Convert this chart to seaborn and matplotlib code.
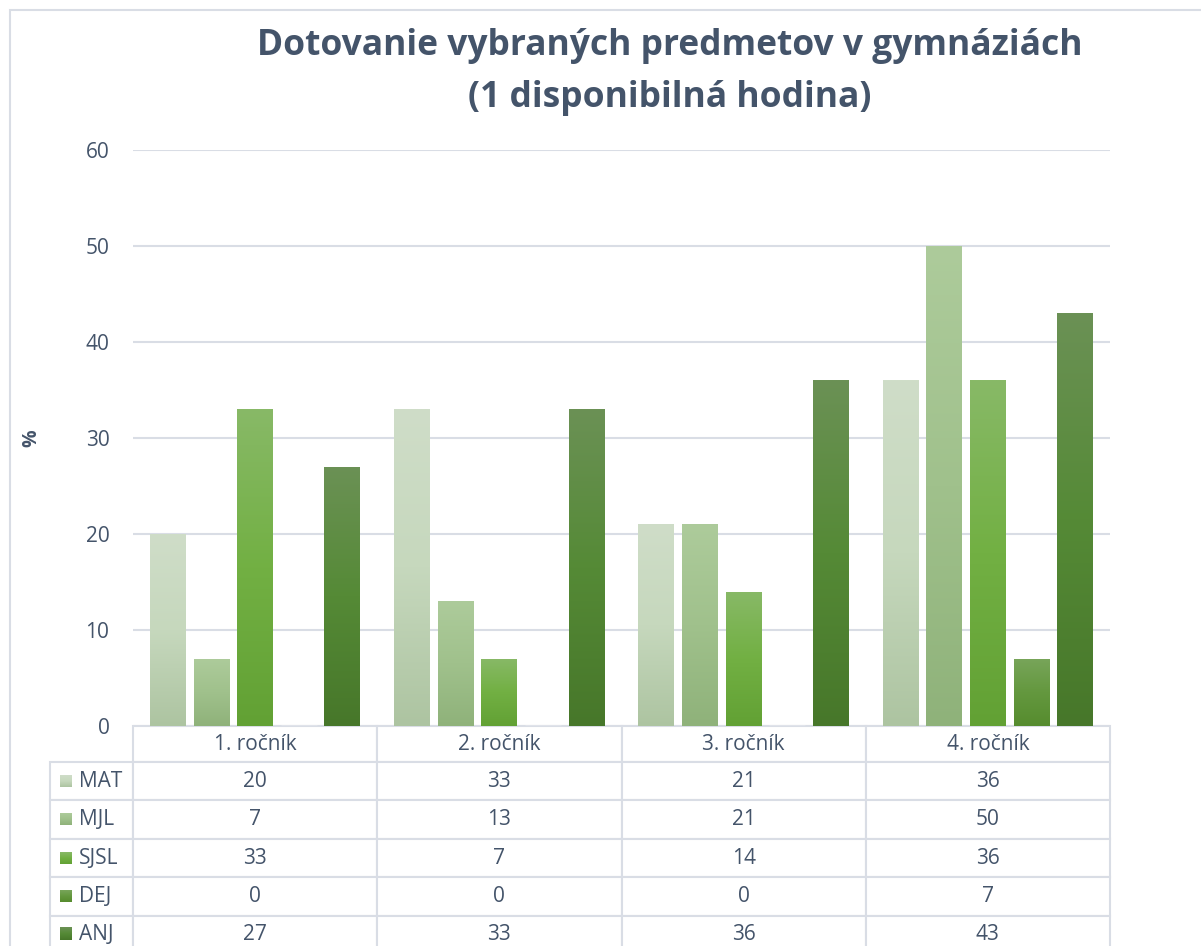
import numpy as np
import pandas as pd
import matplotlib
matplotlib.use("Agg")
import matplotlib.pyplot as plt
import seaborn as sns
from matplotlib.colors import LinearSegmentedColormap
from matplotlib.patches import Rectangle

rocniky = ['1. ročník', '2. ročník', '3. ročník', '4. ročník']
predmety = ['MAT', 'MJL', 'SJSL', 'DEJ', 'ANJ']
mat = [20, 33, 21, 36]
mjl = [7, 13, 21, 50]
sjsl = [33, 7, 14, 36]
dej = [0, 0, 0, 7]
anj = [27, 33, 36, 43]

# gradient colours top -> bottom
grad = {
    'MAT': ['#cfddc8', '#c6d8bd', '#adc4a1'],
    'MJL': ['#adcb9b', '#a0c18c', '#8fb27a'],
    'SJSL': ['#88b967', '#72b043', '#62a134'],
    'DEJ': ['#78a55a', '#64983f', '#568c2e'],
    'ANJ': ['#6b9155', '#558a36', '#47772a'],
}
TXT = '#44546a'
GRID = '#d9dde5'

df = pd.DataFrame({
    'rocnik': rocniky * 5,
    'predmet': [p for p in predmety for _ in rocniky],
    'hodnota': mat + mjl + sjsl + dej + anj,
})

sns.set_style('white')
plt.rcParams['font.family'] = ['Open Sans', 'DejaVu Sans']

fig = plt.figure(figsize=(12.01, 9.46), dpi=100)
W, H = 1201, 946
ax = fig.add_axes([133 / W, 1 - 726 / H, 977 / W, 576 / H])

sns.barplot(data=df, x='rocnik', y='hodnota', hue='predmet', hue_order=predmety,
            palette=[grad[p][1] for p in predmety], width=0.893, gap=0.175,
            legend=False, ax=ax, zorder=3)

ax.set_ylim(0, 60)
ax.set_xlim(-0.5, 3.5)
ax.set_yticks(range(0, 61, 10))
ax.tick_params(axis='y', length=0, pad=17, labelsize=15, labelcolor=TXT)
ax.set_xticks([])
ax.set_xlabel('')
ax.grid(axis='y', color=GRID, lw=1.5, zorder=0)
ax.set_axisbelow(True)
for s in ax.spines.values():
    s.set_visible(False)
ax.set_ylabel('%', fontsize=14, fontweight='bold', color=TXT)
ax.yaxis.set_label_coords(-0.094, 0.5)

# gradient fills on bars
for cont, p in zip(ax.containers, predmety):
    cmap = LinearSegmentedColormap.from_list(p, grad[p][::-1])
    for bar in cont:
        x0, y0 = bar.get_x(), bar.get_y()
        w, h = bar.get_width(), bar.get_height()
        if h <= 0:
            continue
        img = ax.imshow(np.linspace(0, 1, 256).reshape(-1, 1), cmap=cmap,
                        extent=[x0, x0 + w, y0, y0 + h], origin='lower',
                        aspect='auto', zorder=3)
        img.set_clip_path(bar)
        bar.set_alpha(0)

# data table (row-label column hangs left of the bbox)
cell_text = [[str(v) for v in row] for row in [mat, mjl, sjsl, dej, anj]]
lab_w = 83 / 977
tbl = ax.table(cellText=cell_text, rowLabels=predmety, colLabels=rocniky,
               colWidths=[0.25] * 4, cellLoc='center', rowLoc='left',
               bbox=[0, -228 / 576, 1, 228 / 576])
tbl._autoColumns = []
tbl.auto_set_font_size(False)
for (r, c), cell in tbl.get_celld().items():
    cell.set_edgecolor(GRID)
    cell.set_linewidth(1.5)
    cell.get_text().set_color(TXT)
    cell.get_text().set_fontsize(15)
    if c == -1:
        cell.set_width(lab_w)
        cell.PAD = 0.35
    cell.set_height(36 if r == 0 else 38.3)

# legend swatches in row-label column
for i, p in enumerate(predmety):
    yc = -(36 + 38.3 * i + 38.3 / 2) / 576
    cmap = LinearSegmentedColormap.from_list(p + 's', grad[p][::-1])
    ax.imshow(np.linspace(0, 1, 64).reshape(-1, 1), cmap=cmap,
              extent=[-73 / 977, -61 / 977, yc - 6 / 576, yc + 6 / 576],
              origin='lower', aspect='auto', transform=ax.transAxes,
              clip_on=False, zorder=5)
ax.set_xlim(-0.5, 3.5)
ax.set_ylim(0, 60)

fig.text(670 / W, 1 - 72 / H, 'Dotovanie vybraných predmetov v gymnáziách\n(1 disponibilná hodina)',
         ha='center', va='center', fontsize=25.5, fontweight='bold', color=TXT,
         linespacing=1.62)

# chart border
fig.add_artist(Rectangle((10 / W, -0.1), 1.2, 1 - 10 / H + 0.1, transform=fig.transFigure,
                         fill=False, edgecolor=GRID, lw=1.5))

fig.savefig('out.png', dpi=100, facecolor='white')
